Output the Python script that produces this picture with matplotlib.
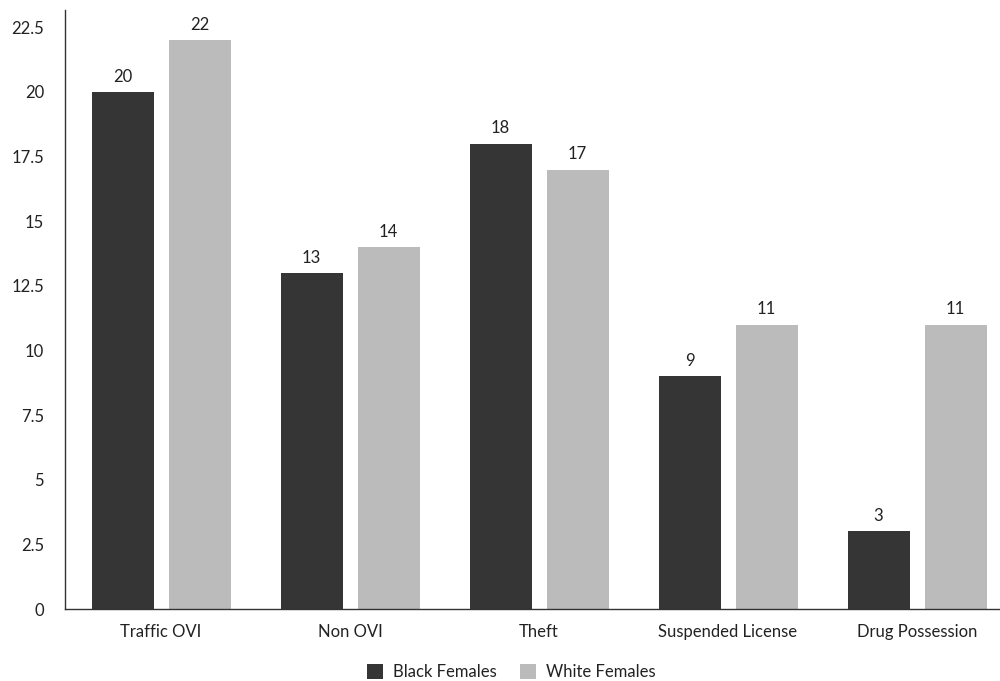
import matplotlib
matplotlib.use("Agg")
import matplotlib.pyplot as plt
import numpy as np

categories = ["Traffic OVI", "Non OVI", "Theft", "Suspended License", "Drug Possession"]
black_females = [20, 13, 18, 9, 3]
white_females = [22, 14, 17, 11, 11]
series_names = ["Black Females", "White Females"]
yticks = [0, 2.5, 5, 7.5, 10, 12.5, 15, 17.5, 20, 22.5]

plt.rcParams['font.family'] = ['Lato', 'DejaVu Sans']

fig = plt.figure(figsize=(10, 6.81), dpi=100)
ax = fig.add_axes([0.065, 1 - 609 / 681, 0.935, 599 / 681])

x = np.arange(len(categories))
w = 62 / 189
off = 38.5 / 189
c_dark = "#353535"
c_light = "#bbbbbb"
b1 = ax.bar(x - off, black_females, width=w, color=c_dark, label=series_names[0])
b2 = ax.bar(x + off, white_females, width=w, color=c_light, label=series_names[1])

for bars, vals in ((b1, black_females), (b2, white_females)):
    for r, v in zip(bars, vals):
        ax.annotate(f"{v}", (r.get_x() + r.get_width() / 2, v), xytext=(0, 11),
                    textcoords="offset points", ha="center", va="center",
                    fontsize=12, color="#222222")

ax.set_xlim(-96 / 189, 839 / 189)
ax.set_ylim(0, 599 / 25.85)
ax.set_yticks(yticks)
ax.set_yticklabels([f"{t:g}" for t in yticks])
ax.set_xticks(x)
ax.set_xticklabels(categories)
ax.tick_params(axis="both", length=0, labelsize=12, colors="#222222")
ax.tick_params(axis="y", pad=15)
ax.tick_params(axis="x", pad=11)
for s in ("top", "right"):
    ax.spines[s].set_visible(False)
for s in ("left", "bottom"):
    ax.spines[s].set_color("#333333")
    ax.spines[s].set_linewidth(1.0)

leg = fig.legend(handles=[b1, b2], labels=series_names, loc="center", bbox_to_anchor=(0.511, 9 / 681),
                 ncol=2, frameon=False, fontsize=12, handlelength=1.0, handleheight=1.0,
                 columnspacing=1.4, handletextpad=0.55, borderpad=0)
for t in leg.get_texts():
    t.set_color("#222222")

fig.savefig("out.png", dpi=100)
